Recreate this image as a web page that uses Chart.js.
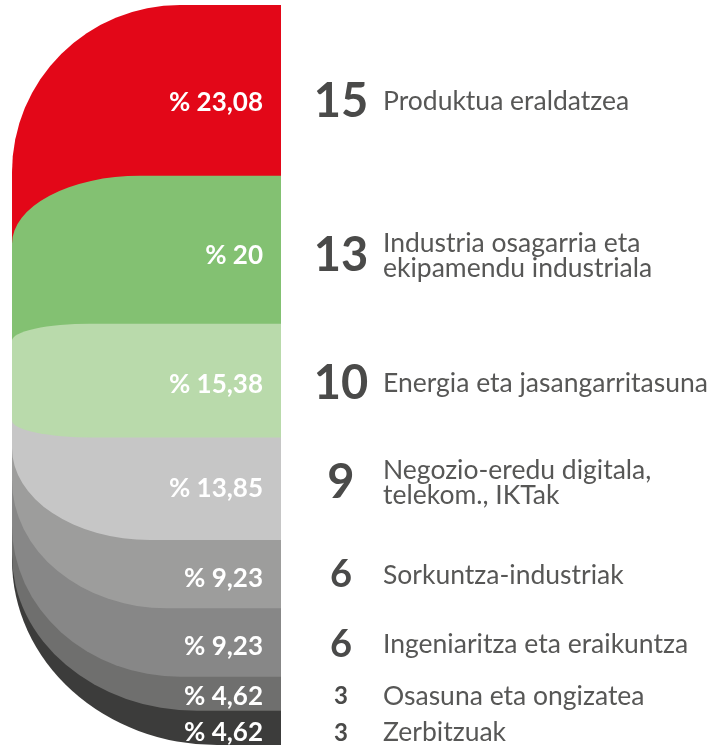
<!DOCTYPE html>
<html lang="eu">
<head>
    <meta charset="UTF-8">
    <title>Sektoreak</title>
    <script src="https://cdn.jsdelivr.net/npm/chart.js"></script>
    <style>
        html, body { margin: 0; padding: 0; background: #ffffff; }
        #wrap { width: 713px; height: 748px; }
    </style>
</head>
<body>
    <div id="wrap"><canvas id="sectorChart" width="713" height="748"></canvas></div>

    <script>
        // Data (top segment first)
        const pcts = [23.08, 20, 15.38, 13.85, 9.23, 9.23, 4.62, 4.62];
        const counts = [15, 13, 10, 9, 6, 6, 3, 3];
        const sectors = [
            ['Produktua eraldatzea'],
            ['Industria osagarria eta', 'ekipamendu industriala'],
            ['Energia eta jasangarritasuna'],
            ['Negozio-eredu digitala,', 'telekom., IKTak'],
            ['Sorkuntza-industriak'],
            ['Ingeniaritza eta eraikuntza'],
            ['Osasuna eta ongizatea'],
            ['Zerbitzuak']
        ];

        const colors = ['#e30718', '#83c172', '#b9daab', '#c6c6c6', '#9d9d9c', '#878787', '#6f6f6e', '#3c3c3b'];

        // corner shapes (rx, ry in px) and label nudges, per segment
        const shapes = [
            { tl: [168, 167], ext: 'down', dy: 12, dyR: 11 },
            { tl: [128, 68], ext: 'down', dy: 6, dyR: 6 },
            { tl: [78, 17], bl: [80, 17], dy: 4, dyR: 3 },
            { bl: [138, 92], ext: 'up', dy: 0, dyR: -6 },
            { bl: [155, 128], ext: 'up', dy: 4, dyR: 1 },
            { bl: [168, 151], ext: 'up', dy: 4, dyR: 2 },
            { bl: [185, 156], ext: 'up', dy: 3, dyR: 3 },
            { bl: [205, 185], ext: 'up', dy: 5, dyR: 5 }
        ];
        const drawOrder = [0, 1, 7, 6, 5, 4, 3, 2];
        const numSize = [47, 47, 47, 47, 38, 38, 24, 24];

        const total = pcts.reduce((a, b) => a + b, 0);
        const fmt = v => '% ' + String(v).replace('.', ',');

        // draws the segments with elliptical corners, overlapping like the original
        const shapePlugin = {
            id: 'shapes',
            beforeDatasetsDraw(chart) {
                const ctx = chart.ctx;
                const mid = chart.getDatasetMeta(2).data[0];
                const midY = (mid.y + mid.base) / 2;
                drawOrder.forEach(i => {
                    const el = chart.getDatasetMeta(i).data[0];
                    const s = shapes[i];
                    const left = el.x - el.width / 2, right = el.x + el.width / 2;
                    let top = Math.min(el.y, el.base), bottom = Math.max(el.y, el.base);
                    if (s.ext === 'down') bottom = midY;
                    if (s.ext === 'up') top = midY;
                    const tl = s.tl || [0, 0], bl = s.bl || [0, 0];
                    ctx.save();
                    ctx.fillStyle = colors[i];
                    ctx.beginPath();
                    ctx.moveTo(left + tl[0], top);
                    ctx.lineTo(right, top);
                    ctx.lineTo(right, bottom);
                    ctx.lineTo(left + bl[0], bottom);
                    if (bl[0] > 0) ctx.ellipse(left + bl[0], bottom - bl[1], bl[0], bl[1], 0, Math.PI / 2, Math.PI);
                    ctx.lineTo(left, top + tl[1]);
                    if (tl[0] > 0) ctx.ellipse(left + tl[0], top + tl[1], tl[0], tl[1], 0, Math.PI, Math.PI * 1.5);
                    ctx.closePath();
                    ctx.fill();
                    ctx.restore();
                });
                return false;
            },
            afterDraw(chart) {
                const ctx = chart.ctx;
                const area = chart.chartArea;
                ctx.save();
                ctx.textBaseline = 'middle';
                pcts.forEach((v, i) => {
                    const el = chart.getDatasetMeta(i).data[0];
                    const c = (el.y + el.base) / 2;
                    const y = c + shapes[i].dy;
                    const yR = c + shapes[i].dyR;
                    // percentage inside the segment
                    ctx.fillStyle = '#ffffff';
                    ctx.font = 'bold 26px Lato';
                    ctx.textAlign = 'right';
                    ctx.fillText(fmt(v), area.right - 18, y);
                    // count
                    ctx.fillStyle = '#4a4a49';
                    ctx.font = 'bold ' + numSize[i] + 'px Lato';
                    ctx.textAlign = 'center';
                    ctx.fillText(String(counts[i]), area.right + 60, yR);
                    // sector name
                    ctx.fillStyle = '#575756';
                    ctx.font = '26.5px Lato';
                    ctx.textAlign = 'left';
                    const lines = sectors[i];
                    lines.forEach((t, k) => {
                        ctx.fillText(t, area.right + 102, yR + (k - (lines.length - 1) / 2) * 25);
                    });
                });
                ctx.restore();
            }
        };

        new Chart(document.getElementById('sectorChart'), {
            type: 'bar',
            data: {
                labels: [''],
                datasets: pcts.map((v, i) => ({
                    label: sectors[i].join(' '),
                    data: [v],
                    backgroundColor: colors[i],
                    barPercentage: 1,
                    categoryPercentage: 1
                }))
            },
            options: {
                responsive: false,
                animation: false,
                devicePixelRatio: 1,
                layout: { padding: { left: 12, right: 432, top: 5, bottom: 3 } },
                plugins: { legend: { display: false }, tooltip: { enabled: false } },
                scales: {
                    x: { stacked: true, display: false },
                    y: { stacked: true, display: false, min: 0, max: total, reverse: true }
                }
            },
            plugins: [shapePlugin]
        });
    </script>
</body>
</html>
